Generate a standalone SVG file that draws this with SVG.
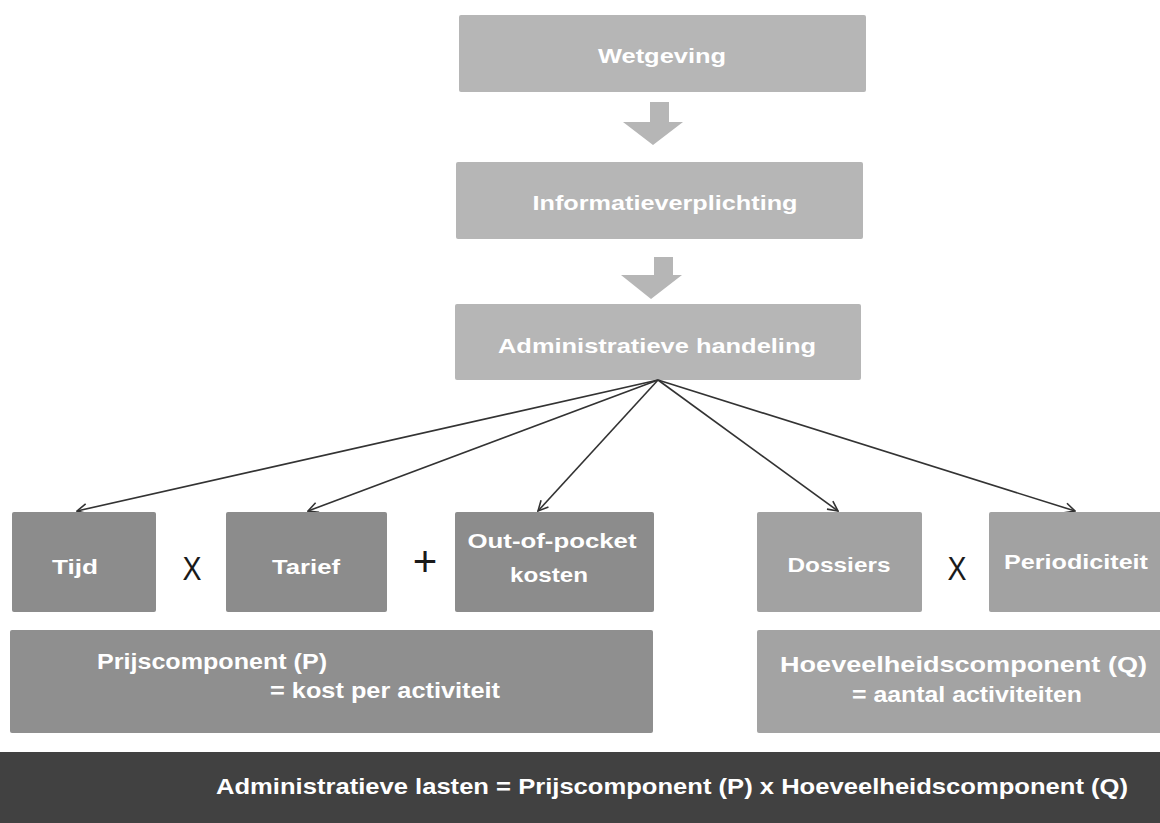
<svg xmlns="http://www.w3.org/2000/svg" width="1160" height="823" viewBox="0 0 1160 823">
<defs>
<style>
.t{font-family:"Liberation Sans",Arial,sans-serif;font-weight:bold;fill:#ffffff;}
.op{font-family:"Liberation Sans",Arial,sans-serif;fill:#1a1a1a;}
.top{fill:#b6b6b6;}
.mid{fill:#8c8c8c;}
.lt{fill:#a2a2a2;}
.con{stroke:#333333;stroke-width:1.6;fill:none;marker-end:url(#ah);}
</style>
<marker id="ah" viewBox="0 0 12 12" refX="11" refY="6" markerWidth="12" markerHeight="12" markerUnits="userSpaceOnUse" orient="auto">
<polyline points="1,1 11,6 1,11" fill="none" stroke="#333333" stroke-width="1.6"/>
</marker>
</defs>
<rect width="1160" height="823" fill="#ffffff"/>

<g id="wetgeving">
<rect class="top" x="459" y="15" width="407" height="77" rx="2"/>
<text class="t" x="662" y="63" font-size="21" text-anchor="middle" textLength="128" lengthAdjust="spacingAndGlyphs">Wetgeving</text>
</g>
<g id="arrow1">
<polygon class="top" points="650,102 669,102 669,122 683,122 653,145 623,122 650,122"/>
</g>
<g id="informatieverplichting">
<rect class="top" x="456" y="162" width="407" height="77" rx="2"/>
<text class="t" x="665" y="210" font-size="21" text-anchor="middle" textLength="265" lengthAdjust="spacingAndGlyphs">Informatieverplichting</text>
</g>
<g id="arrow2">
<polygon class="top" points="654,257 673,257 673,275 682,275 651,299 621,275 654,275"/>
</g>
<g id="administratieve-handeling">
<rect class="top" x="455" y="304" width="406" height="76" rx="2"/>
<text class="t" x="657" y="353" font-size="21" text-anchor="middle" textLength="318" lengthAdjust="spacingAndGlyphs">Administratieve handeling</text>
</g>

<g id="connectors">
<line class="con" x1="658" y1="380" x2="77" y2="511"/>
<line class="con" x1="658" y1="380" x2="308" y2="511"/>
<line class="con" x1="658" y1="380" x2="538" y2="511"/>
<line class="con" x1="658" y1="380" x2="838" y2="511"/>
<line class="con" x1="658" y1="380" x2="1075" y2="511"/>
</g>

<g id="tijd">
<rect class="mid" x="12" y="512" width="144" height="100" rx="2"/>
<text class="t" x="75" y="574" font-size="20" text-anchor="middle" textLength="46" lengthAdjust="spacingAndGlyphs">Tijd</text>
</g>
<text class="op" x="192" y="580" font-size="34" text-anchor="middle" textLength="19" lengthAdjust="spacingAndGlyphs">X</text>
<g id="tarief">
<rect class="mid" x="226" y="512" width="161" height="100" rx="2"/>
<text class="t" x="306" y="574" font-size="20" text-anchor="middle" textLength="68" lengthAdjust="spacingAndGlyphs">Tarief</text>
</g>
<text class="op" x="425" y="576" font-size="42" text-anchor="middle">+</text>
<g id="out-of-pocket">
<rect class="mid" x="455" y="512" width="199" height="100" rx="2"/>
<text class="t" x="552" y="548" font-size="20" text-anchor="middle" textLength="169" lengthAdjust="spacingAndGlyphs">Out-of-pocket</text>
<text class="t" x="549" y="582" font-size="20" text-anchor="middle" textLength="78" lengthAdjust="spacingAndGlyphs">kosten</text>
</g>
<g id="dossiers">
<rect class="lt" x="757" y="512" width="165" height="100" rx="2"/>
<text class="t" x="839" y="572" font-size="20" text-anchor="middle" textLength="103" lengthAdjust="spacingAndGlyphs">Dossiers</text>
</g>
<text class="op" x="957" y="580" font-size="34" text-anchor="middle" textLength="19" lengthAdjust="spacingAndGlyphs">X</text>
<g id="periodiciteit">
<rect class="lt" x="989" y="512" width="175" height="100" rx="2"/>
<text class="t" x="1076" y="569" font-size="20" text-anchor="middle" textLength="144" lengthAdjust="spacingAndGlyphs">Periodiciteit</text>
</g>

<g id="prijscomponent">
<rect x="10" y="630" width="643" height="103" rx="2" fill="#8f8f8f"/>
<text class="t" x="97" y="669" font-size="22" textLength="230" lengthAdjust="spacingAndGlyphs">Prijscomponent (P)</text>
<text class="t" x="270" y="698" font-size="22" textLength="230" lengthAdjust="spacingAndGlyphs">= kost per activiteit</text>
</g>
<g id="hoeveelheidscomponent">
<rect x="757" y="630" width="410" height="103" rx="2" fill="#a3a3a3"/>
<text class="t" x="780" y="672" font-size="22" textLength="367" lengthAdjust="spacingAndGlyphs">Hoeveelheidscomponent (Q)</text>
<text class="t" x="852" y="702" font-size="22" textLength="230" lengthAdjust="spacingAndGlyphs">= aantal activiteiten</text>
</g>

<g id="administratieve-lasten">
<rect x="0" y="752" width="1160" height="71" fill="#414141"/>
<text class="t" x="216" y="794" font-size="22" textLength="912" lengthAdjust="spacingAndGlyphs">Administratieve lasten = Prijscomponent (P) x Hoeveelheidscomponent (Q)</text>
</g>
</svg>
